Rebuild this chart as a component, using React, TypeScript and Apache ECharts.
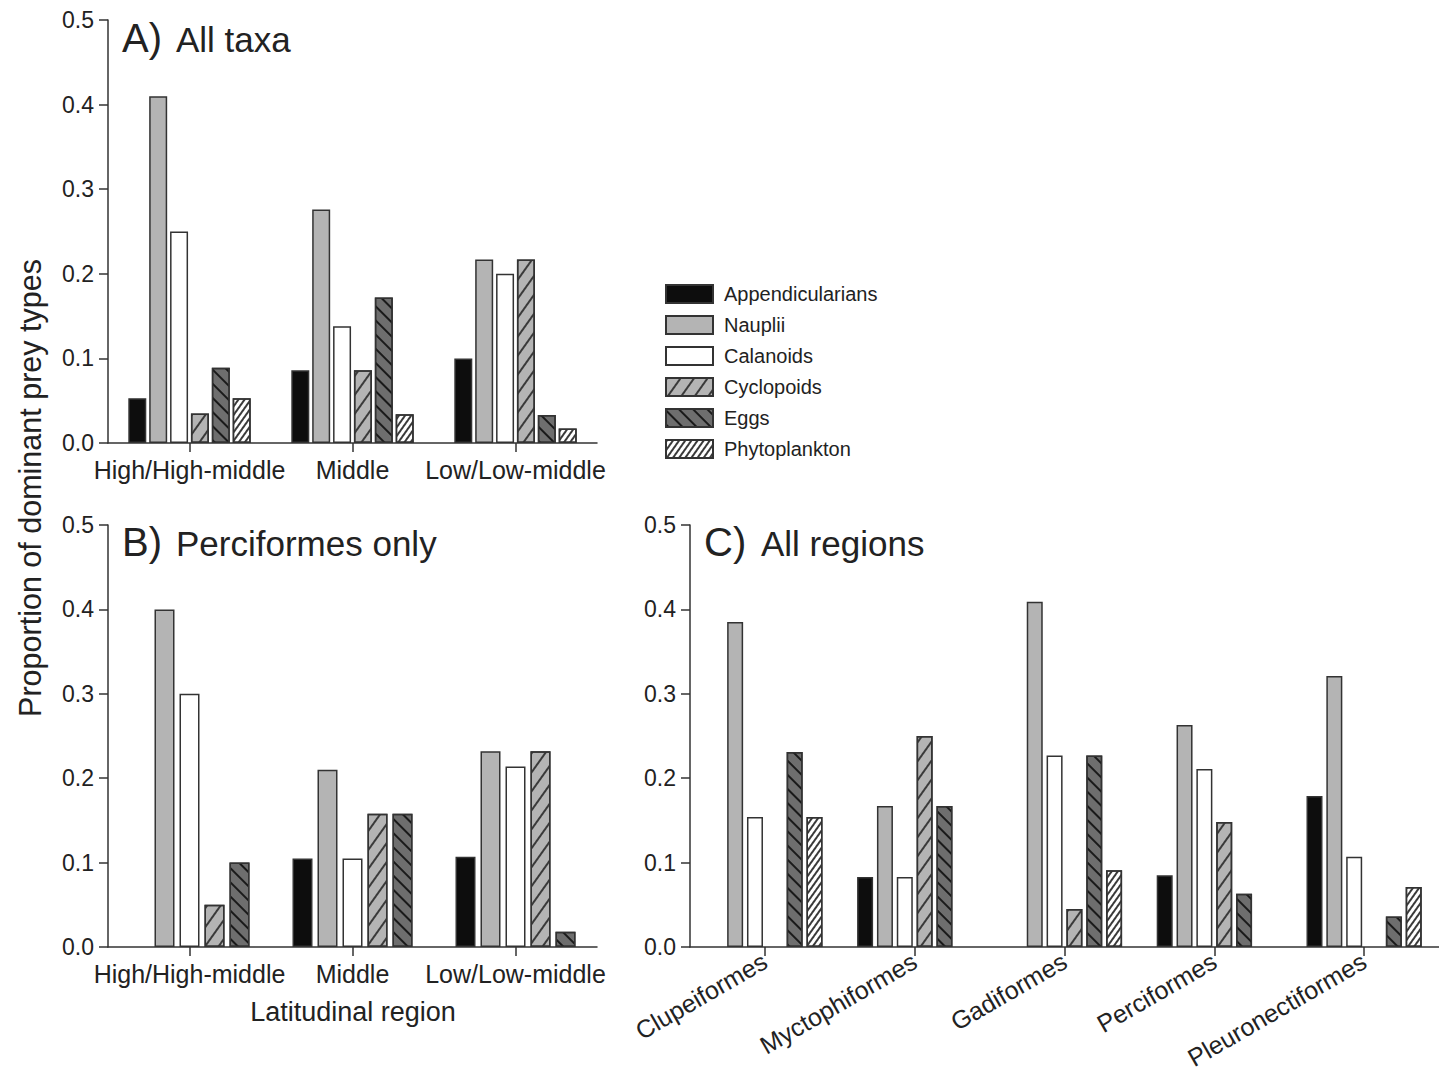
import React, { useEffect, useRef } from "react";
import * as echarts from "echarts";

const seriesNames = ["Appendicularians", "Nauplii", "Calanoids", "Cyclopoids", "Eggs", "Phytoplankton"];
const latCategories = ["High/High-middle", "Middle", "Low/Low-middle"];
const orderCategories = ["Clupeiformes", "Myctophiformes", "Gadiformes", "Perciformes", "Pleuronectiformes"];

// Panel A) All taxa
const aAppendicularians = [0.053, 0.086, 0.1];
const aNauplii = [0.41, 0.276, 0.217];
const aCalanoids = [0.25, 0.138, 0.2];
const aCyclopoids = [0.035, 0.086, 0.217];
const aEggs = [0.089, 0.172, 0.033];
const aPhytoplankton = [0.053, 0.034, 0.017];

// Panel B) Perciformes only
const bAppendicularians = [null, 0.105, 0.107];
const bNauplii = [0.4, 0.21, 0.232];
const bCalanoids = [0.3, 0.105, 0.214];
const bCyclopoids = [0.05, 0.158, 0.232];
const bEggs = [0.1, 0.158, 0.018];

// Panel C) All regions
const cAppendicularians = [null, 0.083, null, 0.085, 0.179];
const cNauplii = [0.385, 0.167, 0.409, 0.263, 0.321];
const cCalanoids = [0.154, 0.083, 0.227, 0.211, 0.107];
const cCyclopoids = [null, 0.25, 0.045, 0.148, null];
const cEggs = [0.231, 0.167, 0.227, 0.063, 0.036];
const cPhytoplankton = [0.154, null, 0.091, null, 0.071];

const FONT = "'Liberation Sans', Arial, Helvetica, sans-serif";
const INK = "#222";
const AXIS = "#333";

const itemStyles: any[] = [
  { color: "#0d0d0d", borderColor: AXIS, borderWidth: 1.5 },
  { color: "#b4b4b4", borderColor: AXIS, borderWidth: 1.5 },
  { color: "#ffffff", borderColor: AXIS, borderWidth: 1.5 },
  {
    color: "#b4b4b4", borderColor: AXIS, borderWidth: 1.5,
    decal: { symbol: "rect", symbolSize: 1, color: "#3a3a3a", dashArrayX: [1, 0], dashArrayY: [2, 9], rotation: -Math.PI / 3.3 },
  },
  {
    color: "#6e6e6e", borderColor: AXIS, borderWidth: 1.5,
    decal: { symbol: "rect", symbolSize: 1, color: "#1a1a1a", dashArrayX: [1, 0], dashArrayY: [2, 8], rotation: Math.PI / 4 },
  },
  {
    color: "#ffffff", borderColor: AXIS, borderWidth: 1.5,
    decal: { symbol: "rect", symbolSize: 1, color: "#3a3a3a", dashArrayX: [1, 0], dashArrayY: [2, 3], rotation: -Math.PI / 3.3 },
  },
];

function makeYAxis(gridIndex: number) {
  return {
    type: "value",
    gridIndex,
    min: 0,
    max: 0.5,
    interval: 0.1,
    axisLine: { show: true, lineStyle: { color: AXIS, width: 1.5 } },
    axisTick: { show: true, length: 9, lineStyle: { color: AXIS, width: 1.5 } },
    splitLine: { show: false },
    axisLabel: {
      formatter: (v: number) => v.toFixed(1),
      fontSize: 23,
      fontFamily: FONT,
      color: INK,
      margin: 14,
    },
  };
}

function makeXAxis(gridIndex: number, data: string[], rotate: number) {
  return {
    type: "category",
    gridIndex,
    data,
    axisLine: { show: true, onZero: false, lineStyle: { color: AXIS, width: 1.5 } },
    axisTick: { show: true, alignWithLabel: true, length: 9, lineStyle: { color: AXIS, width: 1.5 } },
    axisLabel: {
      interval: 0,
      rotate,
      fontSize: 25,
      fontFamily: FONT,
      color: INK,
      margin: rotate ? 12 : 14,
    },
  };
}

function barSeries(
  idx: number,
  data: (number | null)[],
  axis: number,
  barWidth: number,
  barGap: string
) {
  return {
    type: "bar",
    name: seriesNames[idx],
    xAxisIndex: axis,
    yAxisIndex: axis,
    data,
    barWidth,
    barGap,
    itemStyle: itemStyles[idx],
    emphasis: { disabled: true },
  };
}

function titleTexts(letter: string, rest: string, x: number, y: number, restX: number) {
  return [
    {
      type: "text",
      x,
      y,
      style: { text: letter, fontSize: 40, fontFamily: FONT, fill: INK, align: "left", verticalAlign: "middle" },
    },
    {
      type: "text",
      x: restX,
      y: y + 1,
      style: { text: rest, fontSize: 35, fontFamily: FONT, fill: INK, align: "left", verticalAlign: "middle" },
    },
  ];
}

export default function App() {
  const ref = useRef<HTMLDivElement>(null);

  useEffect(() => {
    document.body.style.margin = "0";
    if (!ref.current) return;
    const chart = echarts.init(ref.current, null, { renderer: "svg" });
    const option: any = {
      animation: false,
      backgroundColor: "#ffffff",
      textStyle: { fontFamily: FONT },
      grid: [
        { left: 108, top: 20, width: 489, height: 423 },
        { left: 108, top: 525, width: 489, height: 422 },
        { left: 690, top: 525, width: 752, height: 422 },
      ],
      xAxis: [
        makeXAxis(0, latCategories, 0),
        makeXAxis(1, latCategories, 0),
        makeXAxis(2, orderCategories, 30),
      ],
      yAxis: [makeYAxis(0), makeYAxis(1), makeYAxis(2)],
      legend: {
        data: seriesNames,
        orient: "vertical",
        left: 665,
        top: 284,
        padding: 0,
        itemWidth: 47,
        itemHeight: 18,
        itemGap: 11,
        icon: "rect",
        selectedMode: false,
        textStyle: { fontSize: 20, fontFamily: FONT, color: INK, padding: [0, 0, 0, 6] },
      },
      series: [
        barSeries(0, aAppendicularians, 0, 18, "16%"),
        barSeries(1, aNauplii, 0, 18, "16%"),
        barSeries(2, aCalanoids, 0, 18, "16%"),
        barSeries(3, aCyclopoids, 0, 18, "16%"),
        barSeries(4, aEggs, 0, 18, "16%"),
        barSeries(5, aPhytoplankton, 0, 18, "16%"),
        barSeries(0, bAppendicularians, 1, 20, "25%"),
        barSeries(1, bNauplii, 1, 20, "25%"),
        barSeries(2, bCalanoids, 1, 20, "25%"),
        barSeries(3, bCyclopoids, 1, 20, "25%"),
        barSeries(4, bEggs, 1, 20, "25%"),
        barSeries(0, cAppendicularians, 2, 16, "24%"),
        barSeries(1, cNauplii, 2, 16, "24%"),
        barSeries(2, cCalanoids, 2, 16, "24%"),
        barSeries(3, cCyclopoids, 2, 16, "24%"),
        barSeries(4, cEggs, 2, 16, "24%"),
        barSeries(5, cPhytoplankton, 2, 16, "24%"),
      ],
      graphic: [
        ...titleTexts("A)", "All taxa", 122, 38, 176),
        ...titleTexts("B)", "Perciformes only", 122, 542, 176),
        ...titleTexts("C)", "All regions", 704, 542, 761),
        {
          type: "text",
          x: 30,
          y: 488,
          rotation: Math.PI / 2,
          style: {
            text: "Proportion of dominant prey types",
            fontSize: 30.5,
            fontFamily: FONT,
            fill: INK,
            align: "center",
            verticalAlign: "middle",
          },
        },
        {
          type: "text",
          x: 353,
          y: 1012,
          style: {
            text: "Latitudinal region",
            fontSize: 27,
            fontFamily: FONT,
            fill: INK,
            align: "center",
            verticalAlign: "middle",
          },
        },
      ],
    };
    chart.setOption(option);
    return () => chart.dispose();
  }, []);

  return <div ref={ref} style={{ width: 1439, height: 1075 }} />;
}
